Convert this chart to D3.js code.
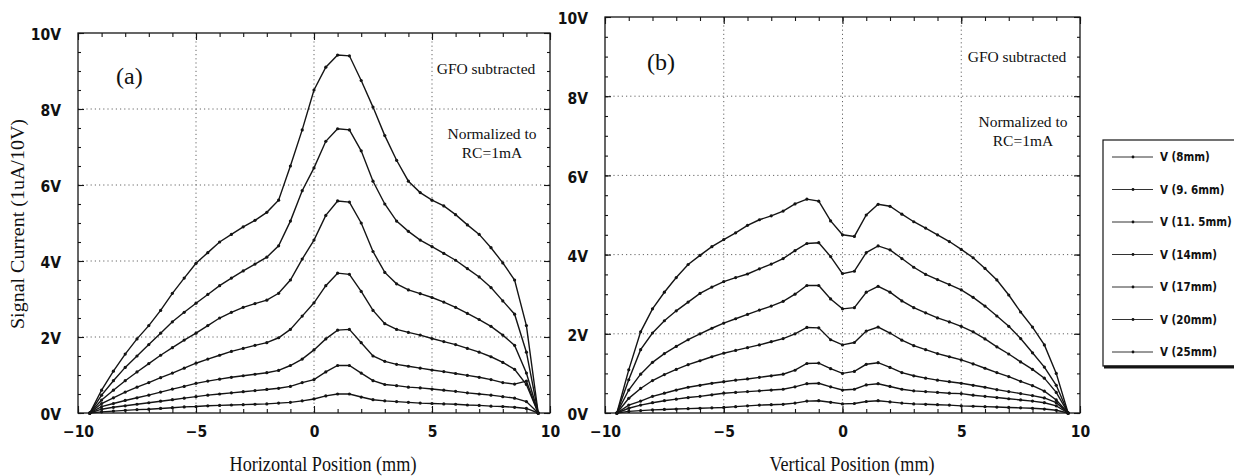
<!DOCTYPE html>
<html><head><meta charset="utf-8">
<script src="https://cdn.jsdelivr.net/npm/d3@7"></script>
<style>
body{margin:0;background:#fff;}
svg{display:block;}
.tk text{font-family:"Liberation Sans Narrow","DejaVu Sans Condensed","Liberation Sans",sans-serif;font-weight:bold;font-size:15.5px;fill:#111;}
.serif{font-family:"Liberation Serif","DejaVu Serif",serif;fill:#111;}
.leg{font-family:"Liberation Sans Narrow","DejaVu Sans Condensed","Liberation Sans",sans-serif;font-weight:bold;font-size:11.5px;fill:#111;}
</style></head><body>
<svg id="c" width="1234" height="476"></svg>
<script>
// ---------- DATA ----------
const positions = [-9.5,-9,-8.5,-8,-7.5,-7,-6.5,-6,-5.5,-5,-4.5,-4,-3.5,-3,-2.5,-2,-1.5,-1,-0.5,0,
  0.5,1,1.5,2,2.5,3,3.5,4,4.5,5,5.5,6,6.5,7,7.5,8,8.5,9,9.5];
const seriesNames = ["V (8mm)","V (9. 6mm)","V (11. 5mm)","V (14mm)","V (17mm)","V (20mm)","V (25mm)"];
const xTicks = [-10,-5,0,5,10];
const yTicks = [0,2,4,6,8,10];
const yTickLabels = ["0V","2V","4V","6V","8V","10V"];

// (a) Horizontal scan
const h_8mm   = [0,0.6,1.1,1.55,1.95,2.3,2.7,3.15,3.55,3.94,4.22,4.5,4.7,4.9,5.07,5.28,5.6,6.5,7.45,8.5,9.1,9.42,9.4,8.75,8.05,7.3,6.65,6.1,5.8,5.6,5.45,5.22,4.95,4.7,4.35,3.95,3.5,2.3,0];
const h_9_6mm = [0,0.47,0.85,1.2,1.5,1.8,2.1,2.4,2.65,2.89,3.12,3.35,3.55,3.74,3.92,4.1,4.4,5.05,5.85,6.45,7.15,7.48,7.45,6.9,6.1,5.5,5.05,4.78,4.55,4.38,4.2,4.02,3.8,3.58,3.3,2.95,2.6,1.6,0];
const h_11_5mm= [0,0.34,0.6,0.85,1.08,1.3,1.52,1.72,1.92,2.1,2.3,2.5,2.65,2.78,2.88,2.97,3.15,3.5,4.05,4.55,5.2,5.58,5.55,5.0,4.25,3.7,3.4,3.24,3.14,3.04,2.92,2.78,2.62,2.46,2.28,2.05,1.78,1.05,0];
const h_14mm  = [0,0.25,0.4,0.55,0.68,0.8,0.93,1.05,1.18,1.31,1.42,1.52,1.62,1.7,1.78,1.85,1.98,2.2,2.55,2.9,3.35,3.68,3.65,3.2,2.7,2.35,2.2,2.12,2.05,1.96,1.88,1.8,1.7,1.6,1.48,1.33,1.15,0.75,0];
const h_17mm  = [0,0.17,0.25,0.33,0.4,0.47,0.55,0.63,0.7,0.78,0.84,0.89,0.94,0.98,1.02,1.06,1.12,1.25,1.42,1.66,1.95,2.18,2.2,1.85,1.5,1.36,1.28,1.23,1.18,1.13,1.09,1.04,0.99,0.94,0.88,0.8,0.76,0.84,0];
const h_20mm  = [0,0.1,0.15,0.19,0.23,0.27,0.31,0.35,0.39,0.43,0.47,0.5,0.53,0.56,0.59,0.62,0.65,0.7,0.8,0.88,1.08,1.25,1.25,1.05,0.85,0.75,0.72,0.68,0.66,0.63,0.6,0.57,0.53,0.5,0.47,0.43,0.39,0.3,0];
const h_25mm  = [0,0.03,0.05,0.07,0.09,0.1,0.12,0.14,0.16,0.17,0.19,0.2,0.21,0.22,0.23,0.24,0.26,0.28,0.32,0.37,0.45,0.5,0.5,0.42,0.35,0.32,0.3,0.28,0.26,0.25,0.24,0.23,0.21,0.2,0.18,0.17,0.15,0.12,0];

// (b) Vertical scan
const v_8mm   = [0,1.09,2.05,2.63,3.05,3.42,3.75,3.98,4.2,4.38,4.55,4.74,4.88,4.98,5.1,5.28,5.4,5.35,4.85,4.5,4.46,5.0,5.27,5.22,5.02,4.83,4.67,4.5,4.33,4.13,3.92,3.65,3.36,2.98,2.55,2.17,1.72,1.0,0];
const v_9_6mm = [0,0.84,1.6,2.02,2.33,2.58,2.8,3.02,3.18,3.32,3.42,3.51,3.64,3.76,3.9,4.1,4.28,4.3,3.95,3.52,3.58,4.05,4.22,4.12,3.9,3.68,3.5,3.37,3.24,3.11,2.92,2.7,2.45,2.19,1.88,1.52,1.16,0.7,0];
const v_11_5mm= [0,0.58,0.98,1.28,1.5,1.68,1.85,2.0,2.14,2.27,2.38,2.49,2.6,2.7,2.82,3.0,3.22,3.22,2.88,2.63,2.66,3.05,3.2,3.05,2.83,2.66,2.53,2.4,2.3,2.19,2.05,1.87,1.67,1.49,1.29,1.1,0.88,0.52,0];
const v_14mm  = [0,0.37,0.62,0.82,0.97,1.1,1.22,1.32,1.42,1.51,1.58,1.65,1.72,1.8,1.88,2.0,2.16,2.15,1.85,1.72,1.78,2.07,2.17,2.02,1.84,1.7,1.6,1.5,1.42,1.34,1.24,1.13,1.02,0.92,0.8,0.69,0.55,0.33,0];
const v_17mm  = [0,0.2,0.3,0.42,0.5,0.58,0.65,0.7,0.75,0.79,0.83,0.86,0.9,0.94,0.98,1.08,1.25,1.26,1.12,1.0,1.05,1.23,1.27,1.15,1.02,0.94,0.88,0.83,0.79,0.75,0.7,0.65,0.59,0.54,0.49,0.44,0.38,0.26,0];
const v_20mm  = [0,0.12,0.2,0.26,0.31,0.35,0.39,0.42,0.46,0.5,0.52,0.54,0.56,0.58,0.6,0.66,0.74,0.75,0.66,0.58,0.6,0.71,0.74,0.67,0.6,0.56,0.54,0.52,0.5,0.49,0.45,0.42,0.39,0.36,0.33,0.3,0.26,0.18,0];
const v_25mm  = [0,0.04,0.06,0.08,0.09,0.1,0.11,0.12,0.13,0.14,0.16,0.18,0.2,0.21,0.22,0.25,0.3,0.31,0.27,0.23,0.24,0.29,0.31,0.28,0.25,0.23,0.22,0.21,0.2,0.18,0.17,0.16,0.15,0.14,0.13,0.12,0.1,0.07,0];

const horizSeries = [h_8mm,h_9_6mm,h_11_5mm,h_14mm,h_17mm,h_20mm,h_25mm];
const vertSeries  = [v_8mm,v_9_6mm,v_11_5mm,v_14mm,v_17mm,v_20mm,v_25mm];

// ---------- DRAW ----------
const svg = d3.select("#c");
const ink = "#141414";

function panel(cfg){
  const g = svg.append("g");
  const x = d3.scaleLinear().domain([-10,10]).range([cfg.x0,cfg.x1]);
  const y = d3.scaleLinear().domain([0,10]).range([cfg.y1,cfg.y0]);

  // grid
  g.append("g").selectAll("line").data([-5,0,5]).join("line")
    .attr("x1",d=>x(d)).attr("x2",d=>x(d)).attr("y1",cfg.y0).attr("y2",cfg.y1)
    .attr("stroke","#666").attr("stroke-width",1).attr("stroke-dasharray","1.2,3");
  g.append("g").selectAll("line").data([2,4,6,8]).join("line")
    .attr("y1",d=>y(d)).attr("y2",d=>y(d)).attr("x1",cfg.x0).attr("x2",cfg.x1)
    .attr("stroke","#666").attr("stroke-width",1).attr("stroke-dasharray","1.2,3");

  const minorX = d3.range(-10,10.001,1);
  const minorY = d3.range(0,10.001,0.5);

  function styleAx(sel){ sel.select(".domain").remove(); sel.selectAll("line").attr("stroke",ink).attr("stroke-width",1.1); sel.attr("class","tk"); }

  // bottom
  g.append("g").attr("transform",`translate(0,${cfg.y1})`)
    .call(d3.axisBottom(x).tickValues(minorX).tickFormat("").tickSizeInner(-4).tickSizeOuter(0)).call(styleAx);
  g.append("g").attr("transform",`translate(0,${cfg.y1})`)
    .call(d3.axisBottom(x).tickValues(xTicks).tickFormat(d=>d<0?"\u2212"+Math.abs(d):d).tickSizeInner(-7).tickSizeOuter(0).tickPadding(13)).call(styleAx);
  // top
  g.append("g").attr("transform",`translate(0,${cfg.y0})`)
    .call(d3.axisTop(x).tickValues(minorX).tickFormat("").tickSizeInner(-4).tickSizeOuter(0)).call(styleAx);
  g.append("g").attr("transform",`translate(0,${cfg.y0})`)
    .call(d3.axisTop(x).tickValues(xTicks).tickFormat("").tickSizeInner(-7).tickSizeOuter(0)).call(styleAx);
  // left
  g.append("g").attr("transform",`translate(${cfg.x0},0)`)
    .call(d3.axisLeft(y).tickValues(minorY).tickFormat("").tickSizeInner(-3).tickSizeOuter(0)).call(styleAx);
  const la = g.append("g").attr("transform",`translate(${cfg.x0},0)`)
    .call(d3.axisLeft(y).tickValues(yTicks).tickFormat((d,i)=>yTickLabels[i]).tickSizeInner(-6).tickSizeOuter(0).tickPadding(17)).call(styleAx);
  la.selectAll("text").attr("dy","0.45em");
  // right
  g.append("g").attr("transform",`translate(${cfg.x1},0)`)
    .call(d3.axisRight(y).tickValues(minorY).tickFormat("").tickSizeInner(-3).tickSizeOuter(0)).call(styleAx);
  g.append("g").attr("transform",`translate(${cfg.x1},0)`)
    .call(d3.axisRight(y).tickValues(yTicks).tickFormat("").tickSizeInner(-6).tickSizeOuter(0)).call(styleAx);

  // frame
  g.append("rect").attr("x",cfg.x0).attr("y",cfg.y0).attr("width",cfg.x1-cfg.x0).attr("height",cfg.y1-cfg.y0)
    .attr("fill","none").attr("stroke",ink).attr("stroke-width",1.3);

  // series
  const line = d3.line().x((d,i)=>x(positions[i])).y(d=>y(d));
  cfg.series.forEach(s=>{
    g.append("path").attr("d",line(s)).attr("fill","none").attr("stroke",ink).attr("stroke-width",1.4);
    g.append("g").selectAll("circle").data(s).join("circle")
      .attr("cx",(d,i)=>x(positions[i])).attr("cy",d=>y(d)).attr("r",1.6).attr("fill",ink);
  });

  // annotations
  g.append("text").attr("class","serif").attr("x",cfg.lblX).attr("y",cfg.lblY).attr("font-size",24).text(cfg.lbl);
  g.append("text").attr("class","serif").attr("x",cfg.noteX).attr("y",cfg.noteY).attr("text-anchor","middle").attr("font-size",15.5).text("GFO subtracted");
  g.append("text").attr("class","serif").attr("x",cfg.noteX+6).attr("y",cfg.noteY+65).attr("text-anchor","middle").attr("font-size",15.5).text("Normalized to");
  g.append("text").attr("class","serif").attr("x",cfg.noteX+6).attr("y",cfg.noteY+84).attr("text-anchor","middle").attr("font-size",15.5).text("RC=1mA");
  // x title
  g.append("text").attr("class","serif").attr("x",cfg.tX).attr("y",471).attr("text-anchor","middle")
    .attr("font-size",21).attr("textLength",cfg.tW).attr("lengthAdjust","spacingAndGlyphs").text(cfg.xTitle);
}

panel({x0:78,x1:550,y0:33,y1:413,series:horizSeries,lbl:"(a)",lblX:116,lblY:84,noteX:486,noteY:74,xTitle:"Horizontal Position (mm)",tX:323,tW:187});
panel({x0:605,x1:1080,y0:17,y1:413,series:vertSeries,lbl:"(b)",lblX:647,lblY:70,noteX:1017,noteY:62,xTitle:"Vertical Position (mm)",tX:852,tW:165});

// y title
svg.append("text").attr("class","serif").attr("transform","translate(24,224) rotate(-90)")
  .attr("text-anchor","middle").attr("font-size",18).attr("textLength",210).attr("lengthAdjust","spacingAndGlyphs")
  .text("Signal Current (1uA/10V)");

// legend
const lg = svg.append("g");
lg.append("rect").attr("x",1103).attr("y",140).attr("width",140).attr("height",226).attr("fill","#fff").attr("stroke",ink).attr("stroke-width",1.2);
lg.append("line").attr("x1",1104).attr("x2",1234).attr("y1",367).attr("y2",367).attr("stroke",ink).attr("stroke-width",3);
const legY = d3.scalePoint().domain(seriesNames).range([157,352]);
seriesNames.forEach(n=>{
  const yy = legY(n);
  lg.append("line").attr("x1",1112).attr("x2",1153).attr("y1",yy).attr("y2",yy).attr("stroke","#333").attr("stroke-width",1);
  lg.append("circle").attr("cx",1133).attr("cy",yy).attr("r",1.4).attr("fill",ink);
  lg.append("text").attr("class","leg").attr("x",1160).attr("y",yy+4).text(n);
});
</script>
</body></html>
